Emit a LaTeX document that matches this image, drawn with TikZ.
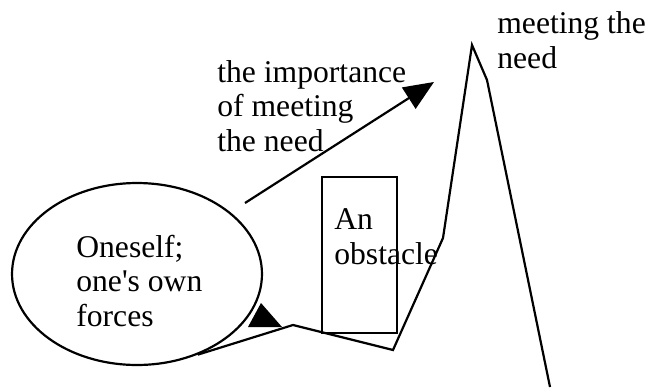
\documentclass[tikz,border=0pt]{standalone}
\usepackage{fontspec}
\setmainfont{Liberation Serif}
\usepackage{tikz}
\usetikzlibrary{
  shapes.geometric,
  arrows.meta,
  positioning
}
\tikzset{
  selfblob/.style = {
    ellipse, draw=black, line width=1.25pt,
    minimum width=5cm, minimum height=3.64cm, inner sep=0pt
  },
  obstbox/.style = {
    rectangle, draw=black, line width=1.25pt,
    minimum width=1.5cm, minimum height=3.12cm, inner sep=0pt
  },
  lbl/.style = {
    anchor=base west, align=left, inner sep=0pt,
    font=\fontsize{18pt}{19.6pt}\selectfont
  },
  arr/.style  = {-{Triangle[length=0.6cm, width=0.5cm]}, draw=black, line width=1.25pt},
  trail/.style = {draw=black, line width=1.25pt, line join=miter},
}

\begin{document}
\begin{tikzpicture}[x=0.02cm, y=-0.02cm]

  \useasboundingbox (0,0) rectangle (652,389);

  % texts sit on the baseline of their last line
  \node[selfblob] (self)    at (137,274) {};
  \node[lbl]      (selftxt) at (76,326)  {Oneself;\\one\textquotesingle s own\\forces};
  \node[obstbox]  (obst)    at (359.5,255) {};
  \node[lbl]      (obsttxt) at (334,264) {An\\obstacle};
  \node[lbl]      (imptxt)  at (217,151) {the importance\\of meeting\\the need};
  \node[lbl]      (needtxt) at (497,68)  {meeting the\\need};

  % arrow towards the need
  \coordinate (arrstart) at (245,203);
  \coordinate (arrend)   at (434,82);
  \draw[arr] (arrstart) -- (arrend);

  % the road over the obstacle
  \coordinate (z1)   at (293,325);
  \coordinate (z2)   at (393,350);
  \coordinate (z3)   at (443,238);
  \coordinate (peak) at (472,45);
  \coordinate (z4)   at (487,80);
  \coordinate (z5)   at (550,387);
  \draw[trail] (self.-53) -- (z1) -- (z2) -- (z3) -- (peak) -- (z4) -- (z5);

  \fill (248,327) -- (261,303) -- (282,327) -- cycle;

\end{tikzpicture}
\end{document}
